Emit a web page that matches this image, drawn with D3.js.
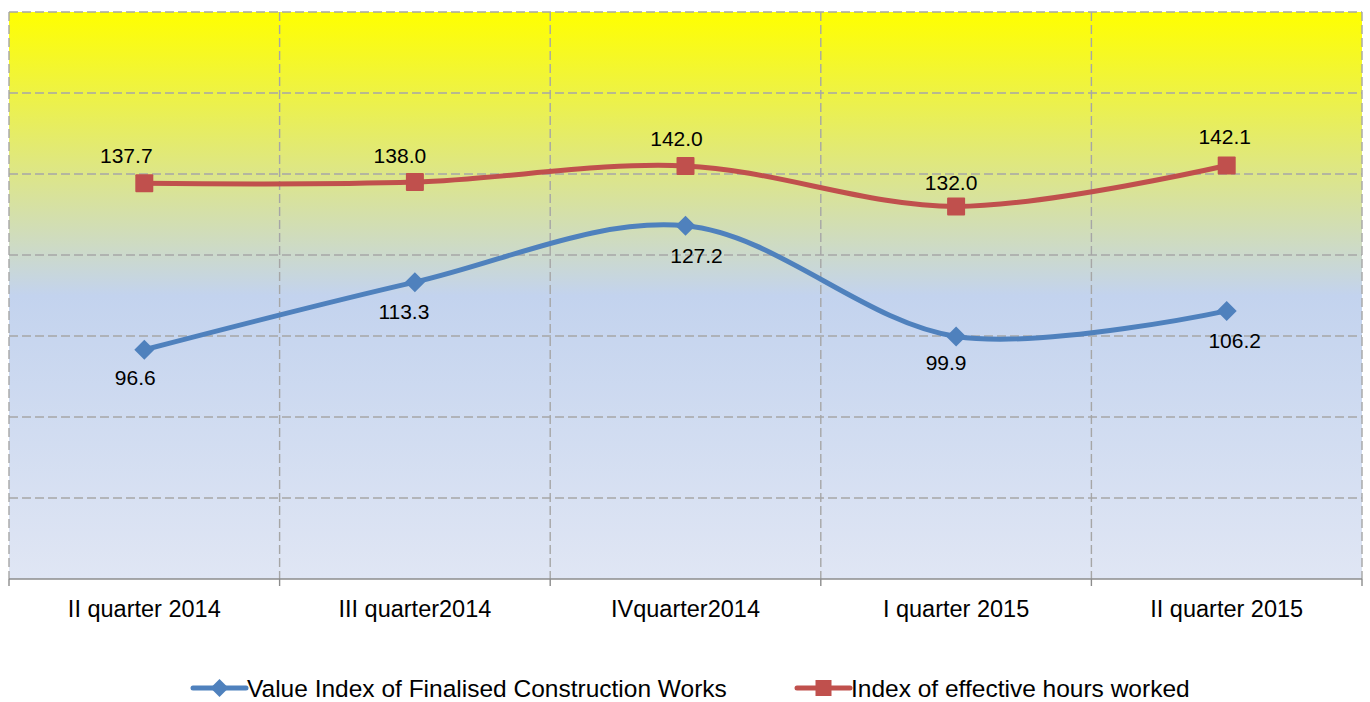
<!DOCTYPE html>
<html>
<head>
<meta charset="UTF-8">
<style>
  body { margin: 0; background: #fff; }
  text { font-family: "Liberation Sans", Arial, sans-serif; fill: #000; }
</style>
</head>
<body>
<script src="https://d3js.org/d3.v7.min.js"></script>
<svg id="svg" width="1370" height="702"></svg>
<script>
const categories = ["II quarter 2014", "III quarter2014", "IVquarter2014", "I quarter 2015", "II quarter 2015"];
const valueIndex = [96.6, 113.3, 127.2, 99.9, 106.2];
const hoursIndex = [137.7, 138.0, 142.0, 132.0, 142.1];
const seriesNames = ["Value Index of Finalised Construction Works", "Index of effective hours worked"];
const yTicks = [40, 60, 80, 100, 120, 140, 160, 180];

// hand-placed data label nudges (px), as in the original chart
const hoursLabelDx = [-18, -15, -9, -5, -2], hoursLabelDy = [-20.5, -19.5, -19.5, -16.5, -21.5];
const valueLabelDx = [-9, -11, 11, -10, 8], valueLabelDy = [35, 37, 37, 34, 37];

const svg = d3.select("#svg");
const plotL = 9, plotR = 1362, plotT = 12, plotB = 579;

const x = d3.scaleBand().domain(categories).range([plotL, plotR]);
const y = d3.scaleLinear().domain([40, 180]).range([plotB, plotT]);
const cx = d => x(d) + x.bandwidth() / 2;

// background gradient
const defs = svg.append("defs");
const grad = defs.append("linearGradient").attr("id", "bg").attr("x1", 0).attr("y1", 0).attr("x2", 0).attr("y2", 1);
grad.append("stop").attr("offset", "0%").attr("stop-color", "#ffff00");
grad.append("stop").attr("offset", "50%").attr("stop-color", "#c3d3ee");
grad.append("stop").attr("offset", "100%").attr("stop-color", "#e0e6f4");

svg.append("rect").attr("x", plotL).attr("y", plotT).attr("width", plotR - plotL).attr("height", plotB - plotT)
  .attr("fill", "url(#bg)");

// horizontal gridlines
svg.append("g").selectAll("line").data(yTicks.slice(1)).join("line")
  .attr("x1", plotL).attr("x2", plotR)
  .attr("y1", d => y(d)).attr("y2", d => y(d))
  .attr("stroke", "#a6a6a6").attr("stroke-width", 1.4).attr("stroke-dasharray", "9,4");

// vertical gridlines (category boundaries)
const bounds = categories.map(c => x(c)).concat([plotR]);
svg.append("g").selectAll("line").data(bounds).join("line")
  .attr("x1", d => d).attr("x2", d => d)
  .attr("y1", plotT).attr("y2", plotB)
  .attr("stroke", "#a6a6a6").attr("stroke-width", 1.4).attr("stroke-dasharray", "9,4");

// x axis
svg.append("line").attr("x1", plotL).attr("x2", plotR).attr("y1", plotB).attr("y2", plotB)
  .attr("stroke", "#8c8c8c").attr("stroke-width", 1.4);
svg.append("g").selectAll("line").data(bounds).join("line")
  .attr("x1", d => d).attr("x2", d => d).attr("y1", plotB).attr("y2", plotB + 7)
  .attr("stroke", "#8c8c8c").attr("stroke-width", 1.4);
svg.append("g").selectAll("text").data(categories).join("text")
  .attr("x", d => cx(d)).attr("y", 616.5)
  .attr("text-anchor", "middle").style("font-size", "23.5px")
  .text(d => d);

const line = d3.line().x((d, i) => cx(categories[i])).y(d => y(d)).curve(d3.curveCatmullRom.alpha(0.5));

const blue = "#4f81bd", red = "#c0504d";

// series lines
svg.append("path").datum(hoursIndex).attr("d", line).attr("fill", "none")
  .attr("stroke", red).attr("stroke-width", 5);
svg.append("path").datum(valueIndex).attr("d", line).attr("fill", "none")
  .attr("stroke", blue).attr("stroke-width", 5);

// markers
svg.append("g").selectAll("rect").data(hoursIndex).join("rect")
  .attr("x", (d, i) => cx(categories[i]) - 9).attr("y", d => y(d) - 9)
  .attr("width", 18).attr("height", 18).attr("fill", red).attr("rx", 1);
svg.append("g").selectAll("path").data(valueIndex).join("path")
  .attr("d", (d, i) => { const px = cx(categories[i]), py = y(d), r = 10; return `M${px},${py - r}L${px + r},${py}L${px},${py + r}L${px - r},${py}Z`; })
  .attr("fill", blue);

// data labels
svg.append("g").selectAll("text").data(hoursIndex).join("text")
  .attr("x", (d, i) => cx(categories[i]) + hoursLabelDx[i]).attr("y", (d, i) => y(d) + hoursLabelDy[i])
  .attr("text-anchor", "middle").style("font-size", "21px")
  .text(d => d.toFixed(1));
svg.append("g").selectAll("text").data(valueIndex).join("text")
  .attr("x", (d, i) => cx(categories[i]) + valueLabelDx[i]).attr("y", (d, i) => y(d) + valueLabelDy[i])
  .attr("text-anchor", "middle").style("font-size", "21px")
  .text(d => d.toFixed(1));

// legend
const legend = [
  { name: seriesNames[0], color: blue, x: 193, marker: "diamond" },
  { name: seriesNames[1], color: red, x: 797, marker: "square" }
];
const ly = 688;
legend.forEach(l => {
  const g = svg.append("g");
  g.append("line").attr("x1", l.x).attr("x2", l.x + 53).attr("y1", ly).attr("y2", ly)
    .attr("stroke", l.color).attr("stroke-width", 5).attr("stroke-linecap", "round");
  const mx = l.x + 26.5;
  if (l.marker === "diamond") {
    g.append("path").attr("d", `M${mx},${ly - 9}L${mx + 9},${ly}L${mx},${ly + 9}L${mx - 9},${ly}Z`).attr("fill", l.color);
  } else {
    g.append("rect").attr("x", mx - 8).attr("y", ly - 8).attr("width", 16).attr("height", 16).attr("fill", l.color);
  }
  g.append("text").attr("x", l.x + 54).attr("y", ly + 8.5).style("font-size", "24.5px").text(l.name);
});
</script>
</body>
</html>
